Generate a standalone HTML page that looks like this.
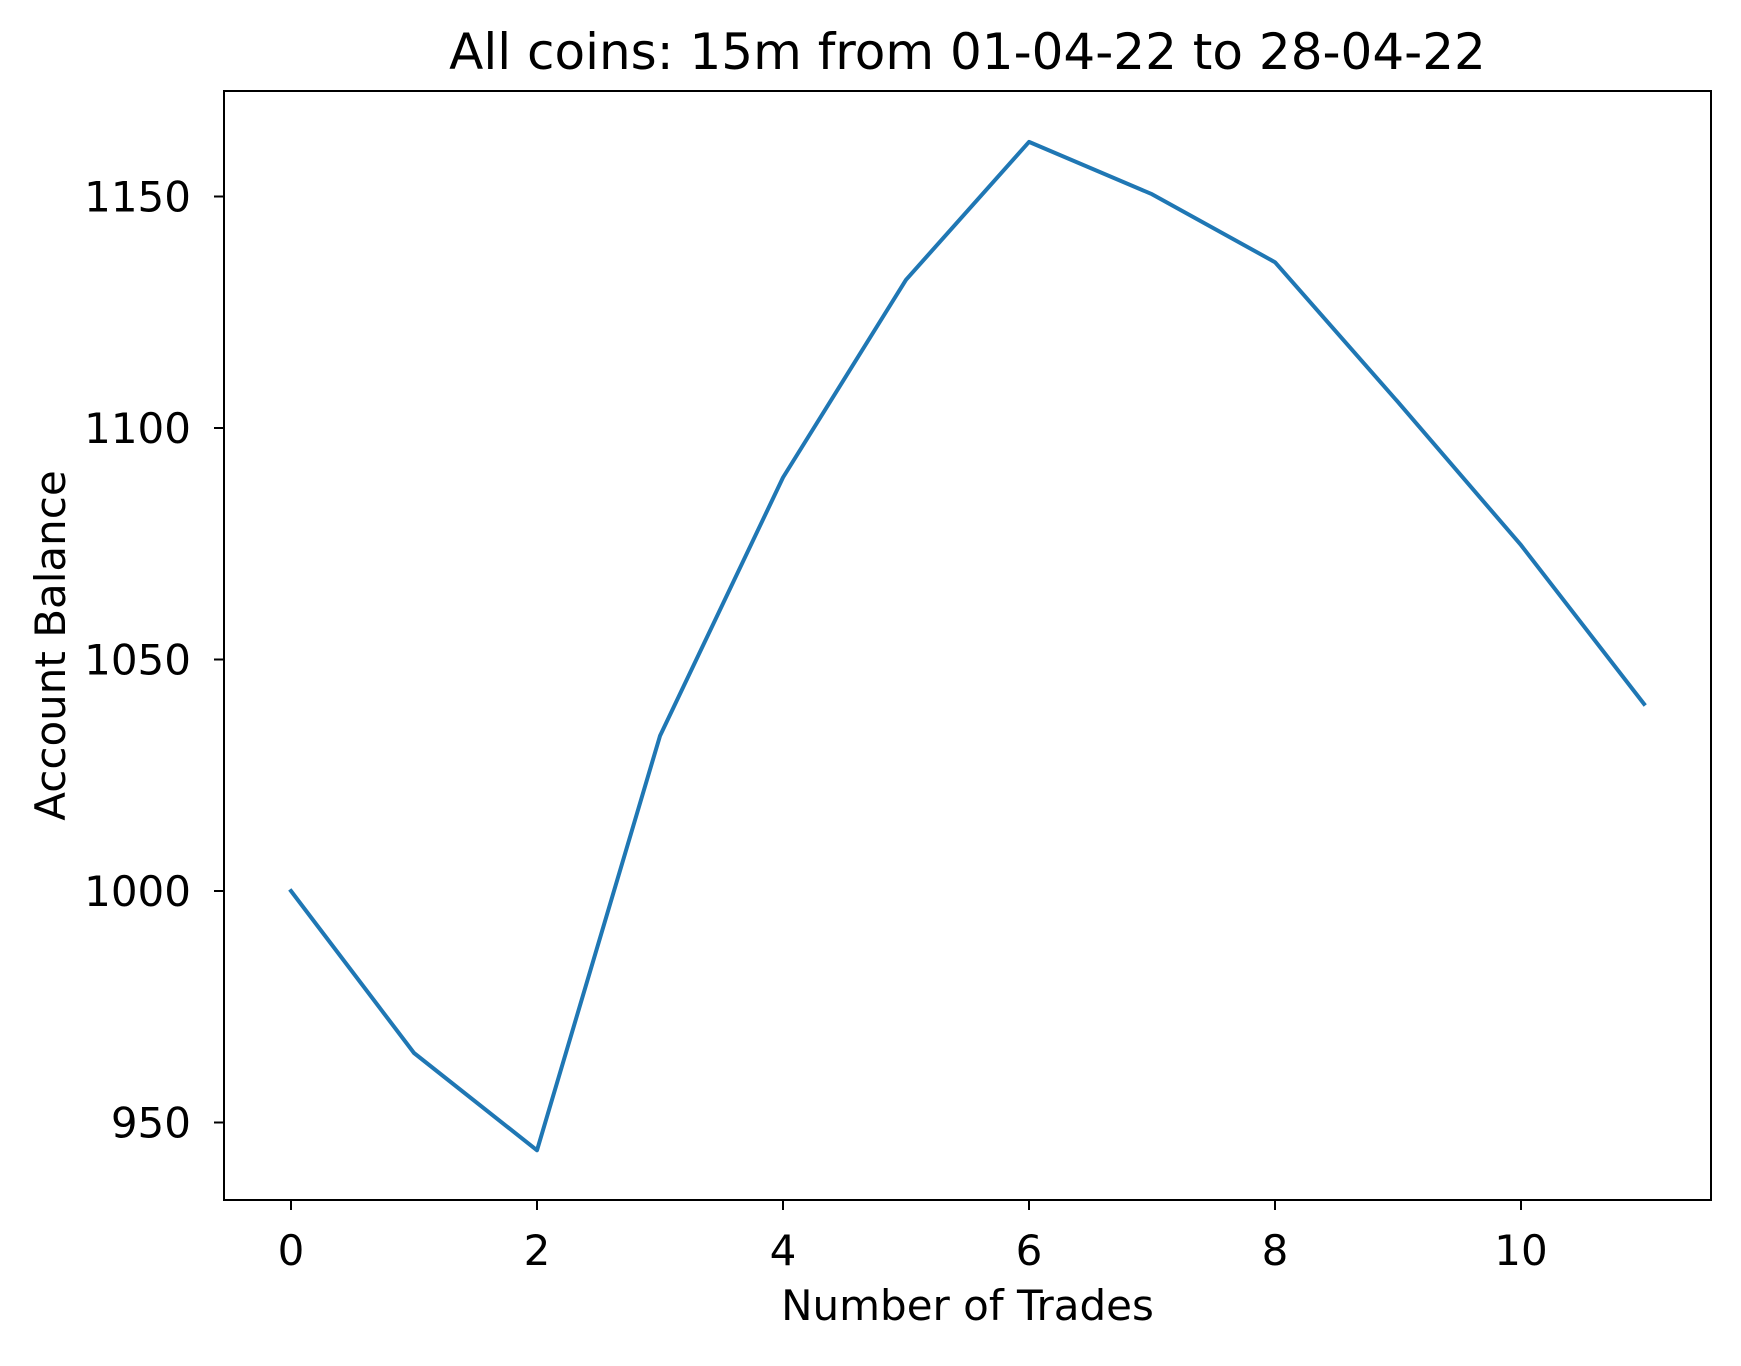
<!DOCTYPE html>
<html><head><meta charset="utf-8"><style>
body{margin:0;background:#fff}
svg text{font-family:"DejaVu Sans","Liberation Sans",sans-serif;fill:#000}
</style></head><body>
<svg id="chart" width="1741" height="1361" xmlns="http://www.w3.org/2000/svg">
<rect width="1741" height="1361" fill="#fff"/>
<g id="g"></g>
</svg>
<script>
const xValues=[0,1,2,3,4,5,6,7,8,9,10,11];
const balance=[1000,965,944,1033.5,1089.3,1132,1161.8,1150.5,1135.8,1105.6,1074.7,1040.4];
const xTicks=[0,2,4,6,8,10];
const yTicks=[950,1000,1050,1100,1150];
const L=224,R=1711,T=91,B=1200;
const sx=v=>291+(v-0)*(1644-291)/11;
const sy=v=>1122.5-(v-950)*(1122.5-196.5)/200;
const g=document.getElementById('g');
const NS='http://www.w3.org/2000/svg';
function mk(t,a,txt){const e=document.createElementNS(NS,t);for(const k in a)e.setAttribute(k,a[k]);if(txt!==undefined)e.textContent=txt;g.appendChild(e);return e;}
let d='';
xValues.forEach((x,i)=>{d+=(i?'L':'M')+sx(x).toFixed(1)+' '+sy(balance[i]).toFixed(1);});
const line=mk('path',{d:d,fill:'none',stroke:'#1f77b4','stroke-width':4,'stroke-linejoin':'round','stroke-linecap':'square'});


const frame=mk('rect',{x:L,y:T,width:R-L,height:B-T,fill:'none',stroke:'#000','stroke-width':2});


xTicks.forEach(v=>{const x=sx(v);
 const tk=mk('line',{x1:x,x2:x,y1:B,y2:B+10,stroke:'#000','stroke-width':2});
 
 
 const t=mk('text',{x:x,y:B+65,'text-anchor':'middle','font-size':42},String(v));
 
 
});
yTicks.forEach(v=>{const y=sy(v);
 const tk=mk('line',{x1:L-10,x2:L,y1:y,y2:y,stroke:'#000','stroke-width':2});
 
 
 const t=mk('text',{x:L-33,y:y+15,'text-anchor':'end','font-size':42},String(v));
 
 
});
const title=mk('text',{x:(L+R)/2,y:69,'text-anchor':'middle','font-size':50},'All coins: 15m from 01-04-22 to 28-04-22');


const xl=mk('text',{x:(L+R)/2,y:1320,'text-anchor':'middle','font-size':42},'Number of Trades');


const yl=mk('text',{x:0,y:0,'text-anchor':'middle','font-size':42,transform:'translate(65 '+((T+B)/2)+') rotate(-90)'},'Account Balance');


</script>
</body></html>
